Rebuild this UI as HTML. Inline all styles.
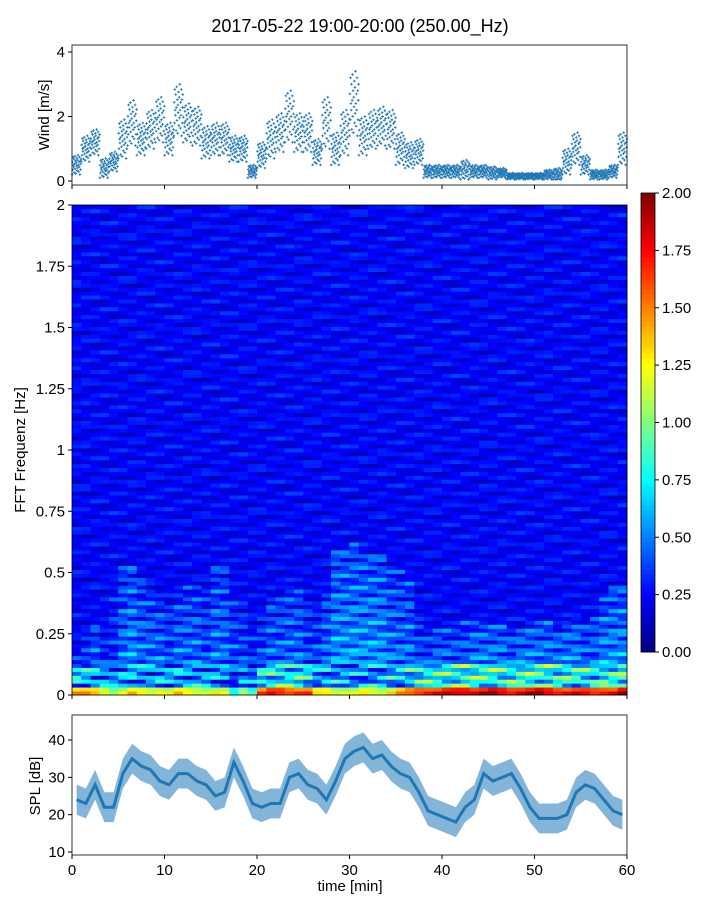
<!DOCTYPE html>
<html><head><meta charset="utf-8">
<style>
body{margin:0;background:#fff;}
svg{display:block;font-family:"Liberation Sans","DejaVu Sans",sans-serif;}
</style></head>
<body>
<svg id="fig" width="720" height="900" viewBox="0 0 720 900" xmlns="http://www.w3.org/2000/svg">
<text x="360" y="32" font-size="18" text-anchor="middle">2017-05-22 19:00-20:00 (250.00_Hz)</text>
<g id="wind"></g>
<g id="spec"></g>
<g id="cbar"></g>
<g id="spl"></g>
</svg>
<script>
// ---- data (per minute, 0..59) ----
const windMean=[0.5,1.0,1.2,0.4,0.6,1.3,1.8,1.3,1.6,1.9,1.3,2.2,1.8,1.7,1.2,1.3,1.3,1.0,1.0,0.3,0.8,1.3,1.5,2.0,1.5,1.5,0.9,1.8,1.0,1.5,2.4,1.4,1.6,1.7,1.6,1.0,0.8,0.9,0.3,0.3,0.3,0.3,0.35,0.3,0.3,0.25,0.25,0.15,0.15,0.15,0.15,0.2,0.2,0.6,1.0,0.5,0.2,0.2,0.3,1.0];
const windSpread=[0.3,0.4,0.4,0.3,0.3,0.6,0.7,0.5,0.6,0.7,0.5,0.8,0.6,0.6,0.5,0.5,0.5,0.4,0.4,0.2,0.4,0.6,0.6,0.8,0.6,0.6,0.4,0.8,0.5,0.7,1.0,0.6,0.6,0.6,0.6,0.5,0.4,0.4,0.2,0.2,0.2,0.2,0.3,0.2,0.2,0.2,0.15,0.1,0.1,0.1,0.1,0.15,0.2,0.4,0.5,0.3,0.15,0.15,0.2,0.5];
const splMean=[24,23,28,22,22,31,35,33,32,29,28,31,31,29,28,25,26,34,29,23,22,23,23,30,31,28,27,24,29,35,37,38,35,36,33,31,30,26,21,20,19,18,22,24,31,29,30,31,27,22,19,19,19,20,26,28,27,24,21,20];
const bandTop=[0.2,0.25,0.3,0.3,0.45,0.53,0.53,0.5,0.45,0.4,0.4,0.42,0.45,0.45,0.45,0.55,0.55,0.4,0.38,0.3,0.35,0.4,0.4,0.45,0.45,0.4,0.35,0.45,0.6,0.6,0.62,0.6,0.6,0.58,0.55,0.52,0.5,0.35,0.3,0.3,0.3,0.28,0.3,0.3,0.3,0.3,0.3,0.28,0.28,0.3,0.3,0.3,0.28,0.3,0.32,0.3,0.35,0.4,0.45,0.45];
const bandLevel=[0.5,0.6,0.7,0.5,0.5,0.7,0.8,0.7,0.7,0.7,0.6,0.7,0.7,0.7,0.6,0.7,0.7,0.6,0.6,0.5,0.6,0.7,0.7,0.7,0.7,0.6,0.6,0.7,0.8,0.8,0.8,0.8,0.8,0.8,0.7,0.7,0.7,0.6,0.6,0.7,0.7,0.7,0.7,0.8,0.8,0.8,0.8,0.7,0.8,0.8,0.8,0.8,0.8,0.8,0.8,0.7,0.7,0.8,0.8,0.8];
const bottomLevel=[1.6,1.5,1.4,1.3,1.2,1.3,1.4,1.3,1.3,1.4,1.3,1.4,1.3,1.3,1.3,1.3,1.2,0.8,1.2,1.0,1.7,1.8,1.8,1.8,1.8,1.7,1.3,1.4,1.3,1.3,1.2,1.3,1.3,1.3,1.4,1.5,1.6,1.8,1.9,1.9,1.9,1.9,2.0,2.0,2.0,2.0,1.9,1.9,2.0,2.0,2.0,1.9,1.9,1.9,1.9,1.8,1.8,1.9,1.9,2.0];
const xTicks=[0,10,20,30,40,50,60];
const windTicks=[0,2,4];
const freqTicks=[0,0.25,0.5,0.75,1,1.25,1.5,1.75,2];
const freqTickLabels=["0","0.25","0.5","0.75","1","1.25","1.5","1.75","2"];
const cbarTicks=[0,0.25,0.5,0.75,1,1.25,1.5,1.75,2];
const splTicks=[10,20,30,40];

const NS="http://www.w3.org/2000/svg";
function mk(p,tag,a){const e=document.createElementNS(NS,tag);for(const k in a)e.setAttribute(k,a[k]);p.appendChild(e);return e;}
const X0=72,X1=627;
const xs=t=>X0+t*(X1-X0)/60;
const yW=v=>181-v*32.25;
const yF=f=>695-f*245;
const yC=v=>652-v*229.5;
const yS=d=>852-(d-10)*3.733;
function jet(v){v=Math.max(0,Math.min(1,v));const c=x=>Math.round(255*Math.max(0,Math.min(1,1.5-Math.abs(4*v-x))));return `rgb(${c(3)},${c(2)},${c(1)})`;}

function xAxis(g,y0,labels){
  for(const t of xTicks){
    const l=mk(g,'line',{x1:xs(t),x2:xs(t),y1:y0,y2:y0+4,stroke:'#000'});
    
    
    if(labels){const tx=mk(g,'text',{x:xs(t),y:y0+20,'font-size':15,'text-anchor':'middle'});tx.textContent=t;
      
      }
  }
}
function yTick(g,y,label,x0){
  const l=mk(g,'line',{x1:x0-4,x2:x0,y1:y,y2:y,stroke:'#000'});
  
  
  const tx=mk(g,'text',{x:x0-7,y:y+5,'font-size':15,'text-anchor':'end'});tx.textContent=label;
  
  
}

// ---- wind ----
const wg=document.getElementById('wind');
const pat=[-1,0.3,-0.5,0.8,0,-0.2,0.6,-0.8,0.1,0.9,-0.4,0.4,-0.9,0.2,-0.1,0.7,-0.6,0.5,-0.3,1,0,-0.7,0.3,-0.2,0.8,-1,0.4,-0.5,0.1,0.6];
for(let m=0;m<60;m++){
  for(let k=0;k<pat.length;k++){
    const v=Math.max(0.05,windMean[m]+windSpread[m]*pat[k]);
    const x=xs(m+(k+0.5)/pat.length),y=yW(v);
    const p=mk(wg,'path',{d:`M${x-1.3},${y}h2.6M${x},${y-1.3}v2.6`,stroke:'#1f77b4','stroke-width':0.9});
    
    
  }
}
const wf=mk(wg,'rect',{x:X0,y:45,width:X1-X0,height:140,fill:'none',stroke:'#000','stroke-width':0.8});


for(const v of windTicks)yTick(wg,yW(v),v,X0);
xAxis(wg,185,false);
const wl=mk(wg,'text',{x:0,y:0,'font-size':15,'text-anchor':'middle',transform:'translate(49,115) rotate(-90)'});wl.textContent='Wind [m/s]';



// ---- spectrogram ----
const sg=document.getElementById('spec');
const NR=125,df=2/NR;
for(let m=0;m<60;m++){
  for(let r=0;r<NR;r++){
    const f=(r+0.5)*df;
    const s1=Math.sin(r*2.3+m*0.7),s2=Math.sin(r*5.1+m*1.3),s3=Math.sin(r*1.7-m*0.4);
    let v=0.24+0.07*s1+0.05*s2+0.03*s3;
    if(f<0.032) v=bottomLevel[m]*(1-f*6)+0.1*s2;
    else if(f<0.13) v=Math.max(v,bottomLevel[m]*0.4+0.28*s1+0.15*s2);
    else if(f<bandTop[m]) v=Math.max(v,bandLevel[m]*0.75*(1-0.4*f/bandTop[m])+0.16*s1+0.08*s2);
    const c=mk(sg,'rect',{x:xs(m),y:yF((r+1)*df),width:(X1-X0)/60+0.4,height:245*df+0.4,fill:jet(v/2)});
    
    
  }
}
const sf=mk(sg,'rect',{x:X0,y:205,width:X1-X0,height:490,fill:'none',stroke:'#000','stroke-width':0.8});


freqTicks.forEach((f,i)=>yTick(sg,yF(f),freqTickLabels[i],X0));
xAxis(sg,695,false);
const sl=mk(sg,'text',{x:0,y:0,'font-size':15,'text-anchor':'middle',transform:'translate(25,450) rotate(-90)'});sl.textContent='FFT Frequenz [Hz]';



// ---- colorbar ----
const cg=document.getElementById('cbar');
for(let i=0;i<100;i++){
  const r=mk(cg,'rect',{x:641,y:yC((i+1)*0.02),width:14,height:229.5*0.02+0.4,fill:jet((i+0.5)/100)});
  
  
}
const cf=mk(cg,'rect',{x:641,y:193,width:14,height:459,fill:'none',stroke:'#000','stroke-width':0.8});


for(const v of cbarTicks){
  const l=mk(cg,'line',{x1:655,x2:659,y1:yC(v),y2:yC(v),stroke:'#000'});
  
  
  const t=mk(cg,'text',{x:662,y:yC(v)+5,'font-size':15});t.textContent=v.toFixed(2);
  
  
}

// ---- SPL ----
const pg=document.getElementById('spl');
let up='',dn='';
for(let m=0;m<60;m++){
  const x=xs(m+0.5);
  up+=(m?'L':'M')+x+','+yS(splMean[m]+4);
}
for(let m=59;m>=0;m--){dn+='L'+xs(m+0.5)+','+yS(splMean[m]-4);}
const band=mk(pg,'path',{d:up+dn+'Z',fill:'#5a9ccc',opacity:0.75});


let ln='';
for(let m=0;m<60;m++)ln+=(m?'L':'M')+xs(m+0.5)+','+yS(splMean[m]);
const line=mk(pg,'path',{d:ln,fill:'none',stroke:'#1f77b4','stroke-width':3});


const pf=mk(pg,'rect',{x:X0,y:715,width:X1-X0,height:140,fill:'none',stroke:'#000','stroke-width':0.8});


for(const d of splTicks)yTick(pg,yS(d),d,X0);
xAxis(pg,855,true);
const pl=mk(pg,'text',{x:0,y:0,'font-size':15,'text-anchor':'middle',transform:'translate(40,786) rotate(-90)'});pl.textContent='SPL [dB]';


const xl=mk(pg,'text',{x:350,y:891,'font-size':15,'text-anchor':'middle'});xl.textContent='time [min]';


</script>
</body></html>
